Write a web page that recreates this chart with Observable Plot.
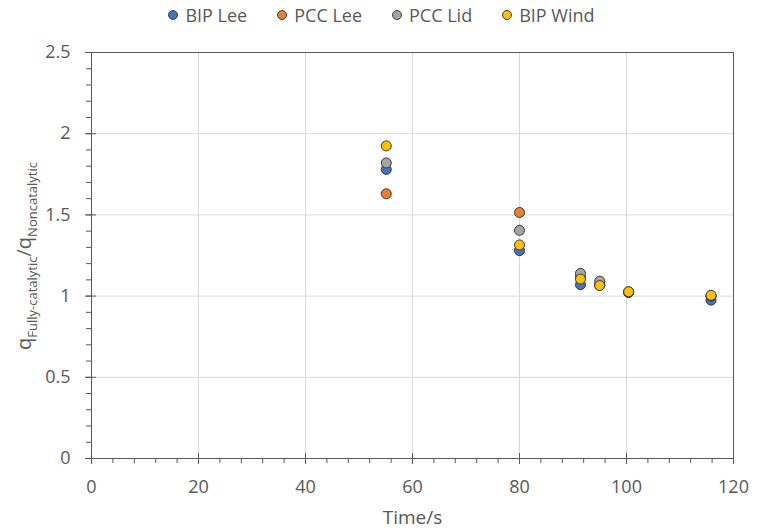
<!DOCTYPE html>
<html>
<head>
<meta charset="utf-8">
<script src="https://cdn.jsdelivr.net/npm/d3@7"></script>
<script src="https://cdn.jsdelivr.net/npm/@observablehq/plot@0.6"></script>
<style>
  body { margin: 0; background: white; font-family: "Open Sans", sans-serif; }
  #legend { height: 30px; display: flex; justify-content: center; align-items: center; gap: 30px; color: #595959; font-size: 18px; }
  #legend .item { display: flex; align-items: center; gap: 7px; }
  #legend .sw { width: 8px; height: 8px; border-radius: 50%; border: 1px solid #404040; }
</style>
</head>
<body>
<div id="legend"></div>
<div id="chart"></div>
<script>
const seriesNames = ["BIP Lee", "PCC Lee", "PCC Lid", "BIP Wind"];
const seriesColors = ["#4472C4", "#ED7D31", "#A5A5A5", "#FFC000"];
const times = [55.1, 80, 91.4, 95, 100.4, 115.8];
const bipLee = [1.78, 1.28, 1.07, 1.067, 1.022, 0.975];
const pccLee = [1.63, 1.515, 1.12, 1.07, 1.025, 1.0];
const pccLid = [1.82, 1.405, 1.14, 1.092, 1.025, 1.0];
const bipWind = [1.925, 1.315, 1.105, 1.065, 1.027, 1.005];
const xMajor = [0, 20, 40, 60, 80, 100, 120];
const yMajor = [0, 0.5, 1, 1.5, 2, 2.5];
const xMinor = d3.range(0, 31).map(i => i * 4);
const yMinor = d3.range(0, 26).map(i => i / 10);

const seriesValues = [bipLee, pccLee, pccLid, bipWind];
const data = [];
seriesNames.forEach((s, k) => times.forEach((t, i) => data.push({series: s, time: t, value: seriesValues[k][i]})));

// legend
const leg = document.getElementById("legend");
seriesNames.forEach((s, k) => {
  const it = document.createElement("div");
  it.className = "item";
  it.innerHTML = `<span class="sw" style="background:${seriesColors[k]}"></span><span>${s}</span>`;
  leg.appendChild(it);
});

const tc = "#595959";
const svg = Plot.plot({
  width: 763,
  height: 499,
  marginLeft: 91,
  marginRight: 30,
  marginTop: 22,
  marginBottom: 71,
  x: {domain: [0, 120]},
  y: {domain: [0, 2.5]},
  color: {domain: seriesNames, range: seriesColors},
  style: {fontFamily: "Open Sans", fontSize: "18px", color: tc, background: "white"},
  marks: [
    Plot.gridX(xMajor, {stroke: "#d9d9d9", strokeOpacity: 1}),
    Plot.gridY(yMajor, {stroke: "#d9d9d9", strokeOpacity: 1}),
    Plot.frame({stroke: tc}),
    Plot.axisY(yMinor, {tickSize: 5, text: null, stroke: tc, label: null}),
    Plot.axisY(yMajor, {tickSize: 11, dx: 5, text: null, stroke: tc, label: null}),
    Plot.axisY(yMajor, {tickSize: 0, tickPadding: 21, label: null, fill: tc, tickFormat: d => String(d)}),
    Plot.axisX(xMinor, {tickSize: 5, text: null, stroke: tc, label: null}),
    Plot.axisX(xMajor, {tickSize: 11, dy: -5, text: null, stroke: tc, label: null}),
    Plot.axisX(xMajor, {tickSize: 0, tickPadding: 22, label: null, fill: tc, tickFormat: d => String(d)}),
    Plot.text(["Time/s"], {frameAnchor: "bottom", dy: 59, lineAnchor: "middle", fill: tc, fontSize: 19}),
    Plot.dot(data, {x: "time", y: "value", fill: "series", r: 5, stroke: "#3a3a3a", strokeWidth: 1})
  ]
});

// y-axis label with subscripts
const t = d3.select(svg).append("text")
  .attr("transform", "translate(31,226) rotate(-90)")
  .attr("text-anchor", "middle")
  .attr("fill", tc)
  .attr("font-family", "Open Sans")
  .attr("font-size", 20);
t.append("tspan").text("q");
t.append("tspan").attr("font-size", 13).attr("dy", 6).text("Fully-catalytic");
t.append("tspan").attr("dy", -6).text("/q");
t.append("tspan").attr("font-size", 13).attr("dy", 6).text("Noncatalytic");

document.getElementById("chart").appendChild(svg);
</script>
</body>
</html>
